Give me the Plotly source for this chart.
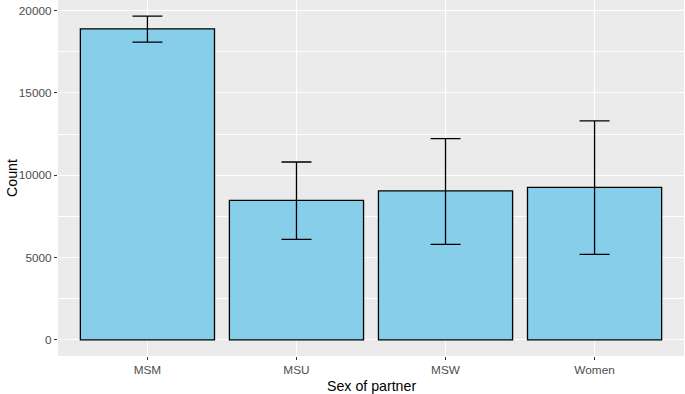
import plotly.graph_objects as go

categories = ["MSM", "MSU", "MSW", "Women"]
counts = [18890, 8470, 9040, 9260]
lower = [18075, 6095, 5795, 5190]
upper = [19655, 10800, 12220, 13300]

err_plus = [u - c for u, c in zip(upper, counts)]
err_minus = [c - l for c, l in zip(counts, lower)]

ymax = max(upper)
pad = 0.05 * ymax

fig = go.Figure()
fig.add_trace(go.Bar(
    x=categories, y=counts,
    marker=dict(color="#87CEEB", line=dict(color="black", width=1.3)),
    error_y=dict(type="data", symmetric=False, array=err_plus, arrayminus=err_minus,
                 color="black", thickness=1.3, width=15),
    showlegend=False,
))

fig.update_layout(
    width=685, height=394,
    margin=dict(l=58, r=1, t=0, b=38),
    paper_bgcolor="white",
    plot_bgcolor="#EBEBEB",
    bargap=0.1,
    font=dict(family="Liberation Sans, Arial, sans-serif"),
    annotations=[
        dict(text="Sex of partner", xref="paper", yref="paper", x=0.5, y=0,
             xanchor="center", yanchor="middle", yshift=-30, showarrow=False,
             font=dict(size=14.2, color="black")),
        dict(text="Count", xref="paper", yref="paper", x=0, y=0.5,
             xanchor="center", yanchor="middle", xshift=-46, textangle=-90, showarrow=False,
             font=dict(size=14.2, color="black")),
    ],
)
fig.update_xaxes(
    range=[-0.6, 3.6], automargin=False,
    showgrid=True, gridcolor="white", gridwidth=1.1,
    ticks="outside", ticklen=3, tickcolor="#333333", tickwidth=1,
    tickfont=dict(size=11.8, color="#4D4D4D"),
    showline=False, zeroline=False,
)
fig.update_yaxes(
    range=[-pad, ymax + pad], automargin=False,
    tickvals=[0, 5000, 10000, 15000, 20000],
    ticktext=["0", "5000", "10000", "15000", "20000"],
    showgrid=True, gridcolor="white", gridwidth=1.1,
    minor=dict(tickvals=[2500, 7500, 12500, 17500], showgrid=True, gridcolor="white", gridwidth=0.5, ticks=""),
    ticks="outside", ticklen=3, tickcolor="#333333", tickwidth=1,
    tickfont=dict(size=11.8, color="#4D4D4D"),
    showline=False, zeroline=False,
)

fig.write_html("out.html", config={"displayModeBar": False},
               post_script="document.body.style.margin='0';document.body.style.overflow='hidden';")
